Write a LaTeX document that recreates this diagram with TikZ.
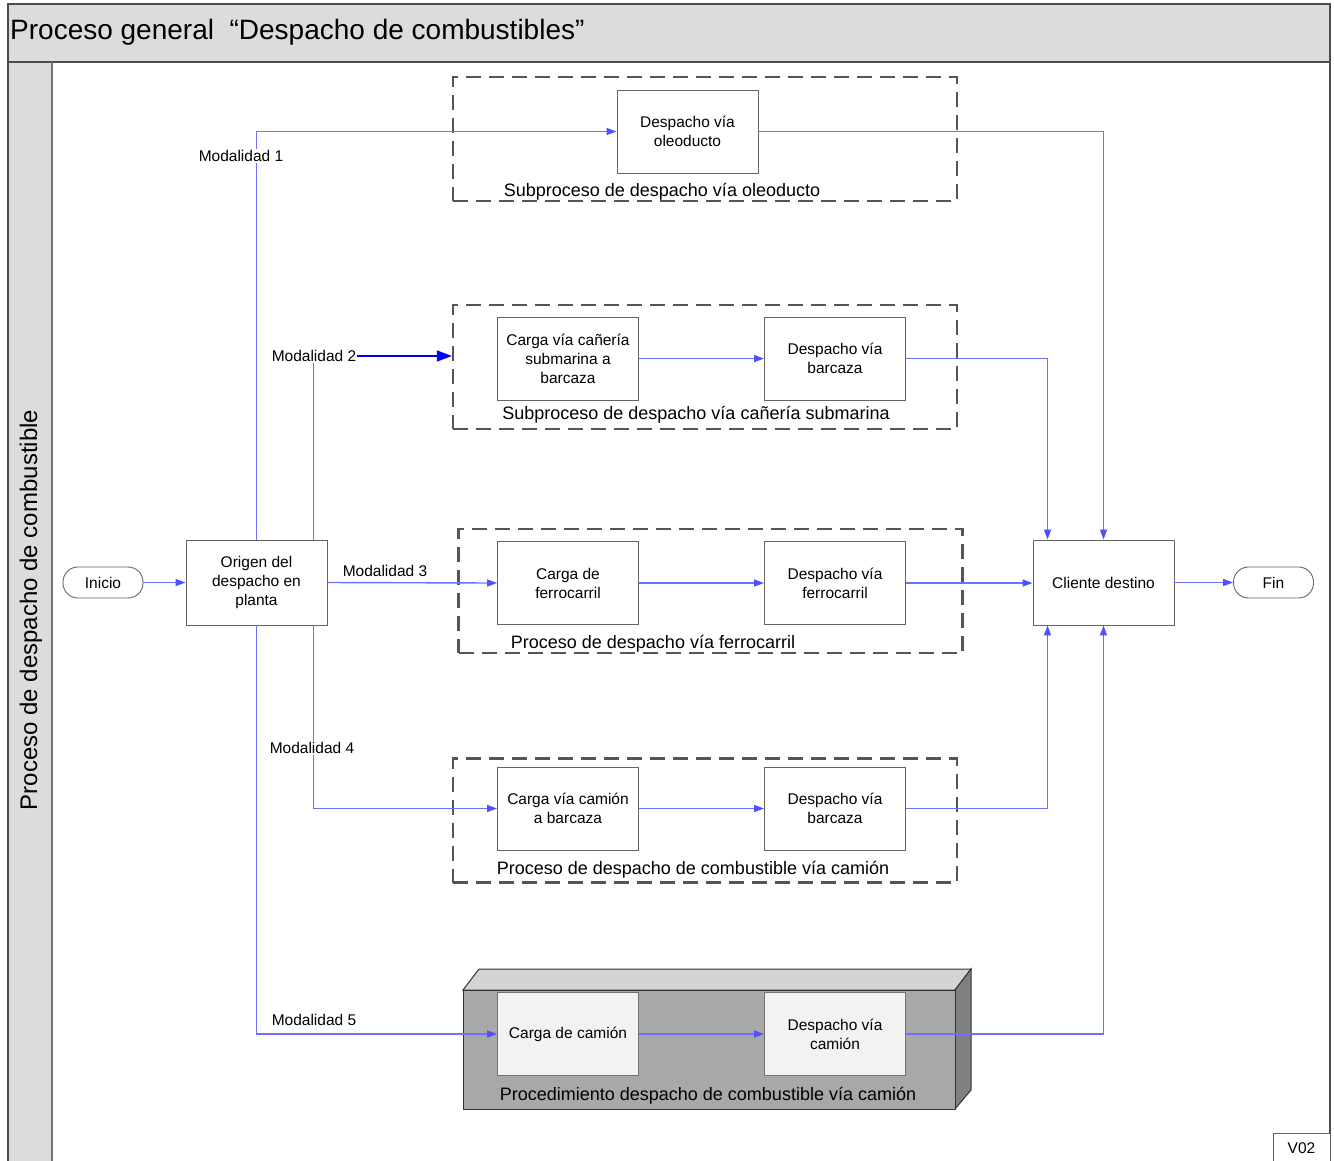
\documentclass[tikz,border=0pt]{standalone}
\usepackage{fontspec}
\setmainfont{Liberation Sans}
\usetikzlibrary{arrows.meta,calc}
\definecolor{flowc}{RGB}{110,110,255}
\definecolor{tipc}{RGB}{80,80,255}
\definecolor{frameg}{RGB}{75,75,75}
\definecolor{bandg}{RGB}{220,220,220}
\definecolor{boxg}{RGB}{100,100,100}
\definecolor{dashg}{RGB}{85,85,85}
\newcommand{\fs}{\fontsize{15.5}{19}\selectfont}
\begin{document}
\begin{tikzpicture}[x=1pt,y=-1pt,
  proc/.style={draw=boxg, line width=0.9pt, fill=white, minimum width=141pt, minimum height=83pt,
    align=center, font=\fs, inner sep=2pt},
  graybox/.style={proc, fill=black!5, draw=black!55},
  term/.style={draw=boxg, line width=0.9pt, rounded corners=15pt, minimum width=80pt,
    minimum height=31pt, font=\fs, inner sep=2pt},
  group/.style={draw=dashg, line width=2.2pt, dash pattern=on 15pt off 8pt,
    minimum width=504pt, minimum height=124pt, inner sep=0pt},
  grouplabel/.style={font=\fontsize{18}{21}\selectfont, inner sep=0pt},
  flow/.style={draw=flowc, line width=1.4pt, -{Triangle[length=10pt,width=7pt,color=tipc]}},
  line/.style={draw=flowc, line width=1.4pt},
  bigflow/.style={draw=blue!85!black, line width=1.4pt, -{Triangle[length=15pt,width=11pt,color=blue]}},
  modlabel/.style={fill=white, inner sep=1pt, font=\fs}]
\useasboundingbox (0,0) rectangle (1334,1160);

% frame, title band and lane column
\fill[bandg] (8,4) rectangle (1330,62);
\fill[bandg] (8,62) rectangle (52,1170);
\draw[frameg, line width=2pt] (8,1170) -- (8,4) -- (1330,4) -- (1330,1170);
\draw[frameg, line width=1.4pt] (8,62) -- (1330,62);
\draw[black!55, line width=1.4pt] (52,62) -- (52,1170);
\node[anchor=west, font=\fontsize{28}{32}\selectfont, inner sep=0pt] (title) at (10,32)
  {Proceso general \ “Despacho de combustibles”};
\node[rotate=90, font=\fontsize{24}{28}\selectfont, inner sep=0pt] (lane) at (31,610)
  {Proceso de despacho de combustible};

% subprocess groups
\node[group] (g1) at (705,139) {};
\node[grouplabel] (g1l) at (662,192) {Subproceso de despacho vía oleoducto};
\node[group] (g2) at (705,367) {};
\node[grouplabel] (g2l) at (696,415) {Subproceso de despacho vía cañería submarina};
\node[group] (g3) at (710.5,591) {};
\node[grouplabel] (g3l) at (653,644) {Proceso de despacho vía ferrocarril};
\node[group] (g4) at (705,820.5) {};
\node[grouplabel] (g4l) at (693,870) {Proceso de despacho de combustible vía camión};

% 3D procedure block
\filldraw[fill=black!17, draw=black!80, line width=1pt] (463,990) -- (479,969) -- (971,969) -- (955,990) -- cycle;
\filldraw[fill=black!50, draw=black!80, line width=1pt] (955,990) -- (971,969) -- (971,1090) -- (955,1109) -- cycle;
\filldraw[fill=black!34, draw=black!80, line width=1pt] (463,990) rectangle (955,1109);
\node[grouplabel] (g5l) at (708,1096) {Procedimiento despacho de combustible vía camión};

% process nodes
\node[term] (inicio) at (103,582.5) {Inicio};
\node[proc, minimum height=85pt] (origen) at (256.5,582.5) {Origen del\\despacho en\\planta};
\node[proc] (oleo) at (687.5,131.5) {Despacho vía\\oleoducto};
\node[proc] (carga2) at (568,358.5) {Carga vía cañería\\submarina a\\barcaza};
\node[proc] (barc2) at (835,358.5) {Despacho vía\\barcaza};
\node[proc] (carga3) at (568,583) {Carga de\\ferrocarril};
\node[proc] (ferro) at (835,583) {Despacho vía\\ferrocarril};
\node[proc] (carga4) at (568,808.5) {Carga vía camión\\a barcaza};
\node[proc] (barc4) at (835,808.5) {Despacho vía\\barcaza};
\node[graybox] (carga5) at (568,1034) {Carga de camión};
\node[graybox] (camion) at (835,1034) {Despacho vía\\camión};
\node[proc, minimum height=85pt] (cliente) at (1103.5,582.5) {Cliente destino};
\node[term] (fin) at (1273.5,582.5) {Fin};
\node[draw=boxg, line width=0.9pt, fill=white, minimum width=57pt, minimum height=30pt,
  font=\fs, inner sep=1pt] (ver) at (1301.5,1148) {V02};

% connectors
\draw[flow] (inicio) -- (origen);
\draw[flow] (cliente) -- (fin);

\draw[flow] (origen.north) |- (oleo.west);
\node[modlabel] (m1) at (241,156) {Modalidad 1};

\node[modlabel] (m2) at (314,356) {Modalidad 2};
\draw[line] ([xshift=-14pt]origen.north east) -- ([xshift=-14pt]origen.north east |- m2.south);
\draw[bigflow] (m2.east) -- (m2.east -| g2.west);

\draw[flow] (origen.east) -- (carga3.west);
\node[modlabel] (m3) at (385,571) {Modalidad 3};

\draw[flow] ([xshift=-14pt]origen.south east) |- (carga4.west);
\node[modlabel] (m4) at (312,748) {Modalidad 4};

\draw[flow] (origen.south) |- (carga5.west);
\node[modlabel] (m5) at (314,1020) {Modalidad 5};

\draw[flow] (carga2) -- (barc2);
\draw[flow] (carga3) -- (ferro);
\draw[flow] (carga4) -- (barc4);
\draw[flow] (carga5) -- (camion);

\draw[flow] (oleo.east) -| (cliente.north);
\draw[flow] (barc2.east) -| ([xshift=-56pt]cliente.north);
\draw[flow] (ferro.east) -- (ferro.east -| cliente.west);
\draw[flow] (barc4.east) -| ([xshift=-56pt]cliente.south);
\draw[flow] (camion.east) -| (cliente.south);
\end{tikzpicture}
\end{document}
